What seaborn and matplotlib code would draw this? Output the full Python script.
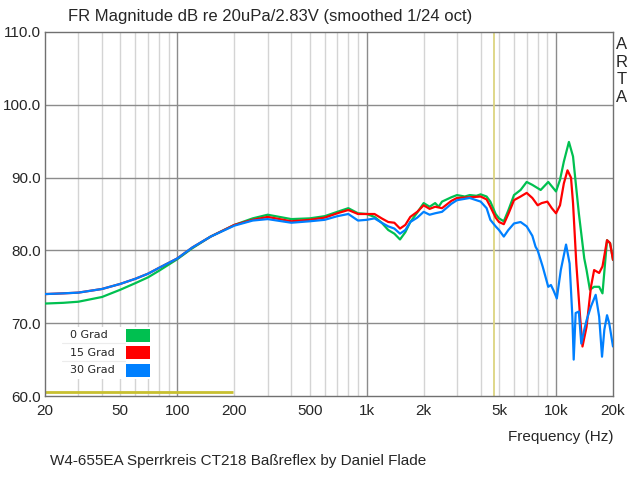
import numpy as np
import pandas as pd
import seaborn as sns
import matplotlib.pyplot as plt
from matplotlib.patches import Rectangle
from matplotlib.ticker import FixedLocator, NullFormatter

# values (Hz / dB)
freq_0 = [20, 25, 30, 40, 50, 60, 70, 80, 100, 120, 150, 200, 250, 300, 400, 500,
          600, 700, 800, 900, 1000, 1100, 1200, 1300, 1400, 1500, 1600, 1700, 1850,
          2000, 2150, 2300, 2400, 2500, 2800, 3000, 3300, 3500, 3800, 4000, 4300,
          4500, 4800, 5000, 5300, 5600, 6000, 6500, 7000, 7500, 8300, 9100, 10000,
          10500, 11000, 11700, 12300, 13200, 14100, 14500, 15100, 15900, 16900,
          17600, 18600, 19300, 20000]
db_0 = [72.7, 72.8, 72.95, 73.6, 74.6, 75.5, 76.3, 77.2, 78.8, 80.3, 81.9, 83.5,
        84.4, 84.9, 84.3, 84.4, 84.7, 85.3, 85.8, 85.1, 85.0, 84.6, 83.8, 82.8,
        82.3, 81.5, 82.5, 83.9, 85.2, 86.5, 86.0, 86.5, 86.0, 86.7, 87.3, 87.6,
        87.4, 87.6, 87.5, 87.7, 87.4, 86.7, 85.0, 84.4, 84.0, 85.5, 87.6, 88.3,
        89.4, 89.0, 88.3, 89.4, 88.1, 89.7, 92.2, 94.9, 92.9, 85.1, 78.9, 77.3,
        74.6, 75.0, 75.0, 74.1, 81.4, 81.0, 78.7]

freq_15 = [20, 25, 30, 40, 50, 60, 70, 80, 100, 120, 150, 200, 250, 300, 400, 500,
           600, 700, 800, 900, 1000, 1100, 1200, 1300, 1400, 1500, 1600, 1700, 1850,
           2000, 2150, 2300, 2500, 2800, 3000, 3500, 4000, 4300, 4500, 4800, 5000,
           5300, 5600, 6000, 6500, 7000, 7500, 8000, 8400, 9000, 9500, 10000, 10500,
           11000, 11500, 12000, 12300, 12800, 13400, 13800, 14500, 15300, 15900,
           16900, 17600, 18600, 19300, 20000]
db_15 = [74.0, 74.1, 74.2, 74.7, 75.4, 76.1, 76.8, 77.6, 78.9, 80.4, 81.9, 83.5,
         84.2, 84.6, 84.0, 84.2, 84.5, 85.1, 85.55, 85.0, 85.0, 85.0, 84.4, 83.9,
         83.8, 83.0, 83.5, 84.6, 85.3, 86.2, 85.7, 86.0, 85.8, 86.8, 87.2, 87.3,
         87.4, 87.0, 86.0, 84.5, 83.9, 83.6, 85.0, 86.9, 87.4, 87.9, 87.2, 86.2,
         86.5, 86.7, 85.8, 85.1, 86.2, 89.2, 91.0, 90.0, 86.5, 78.2, 70.9, 66.8,
         69.5, 75.0, 77.3, 76.9, 77.8, 81.4, 81.0, 78.7]

freq_30 = [20, 25, 30, 40, 50, 60, 70, 80, 100, 120, 150, 200, 250, 300, 400, 500,
           600, 700, 800, 900, 1000, 1100, 1200, 1300, 1400, 1500, 1600, 1700, 1850,
           2000, 2150, 2300, 2500, 2800, 3000, 3500, 4000, 4300, 4500, 4800, 5000,
           5300, 5600, 6000, 6500, 7000, 7500, 7800, 8000, 8500, 9100, 9400, 9700,
           10100, 10600, 11300, 11800, 12200, 12400, 12700, 13200, 13600, 14100,
           14500, 15300, 16200, 16900, 17500, 18000, 18600, 19100, 20000]
db_30 = [74.0, 74.1, 74.2, 74.7, 75.4, 76.1, 76.8, 77.6, 78.9, 80.4, 81.9, 83.4,
         84.1, 84.3, 83.8, 84.0, 84.2, 84.7, 85.0, 84.1, 84.2, 84.4, 83.8, 83.3,
         83.0, 82.3, 82.8, 83.9, 84.5, 85.3, 84.9, 85.1, 85.3, 86.4, 86.9, 87.2,
         86.7, 85.8, 84.2, 83.3, 82.8, 81.9, 82.8, 83.7, 83.9, 83.3, 82.0, 80.5,
         80.0, 77.8, 75.0, 75.25, 74.5, 73.4, 77.3, 80.8, 78.2, 70.9, 65.0, 71.4,
         71.6, 67.2, 69.1, 70.4, 72.3, 73.9, 70.9, 65.4, 69.1, 71.1, 70.0, 66.8]

series_names = ['0 Grad', '15 Grad', '30 Grad']
series_colors = ['#00C050', '#FF0000', '#0080FF']

x_ticks = [20, 50, 100, 200, 500, 1000, 2000, 5000, 10000, 20000]
x_tick_labels = ['20', '50', '100', '200', '500', '1k', '2k', '5k', '10k', '20k']
y_ticks = [60, 70, 80, 90, 100, 110]

# yellow marker lines drawn by ARTA
marker_freq = 4700
marker_level = 60.5
marker_level_end = 197

df = pd.concat([
    pd.DataFrame({'freq': freq_0, 'db': db_0, 'angle': series_names[0]}),
    pd.DataFrame({'freq': freq_15, 'db': db_15, 'angle': series_names[1]}),
    pd.DataFrame({'freq': freq_30, 'db': db_30, 'angle': series_names[2]}),
])

sns.set_style('white')
plt.rcParams['font.family'] = ['Liberation Sans', 'DejaVu Sans']

fig = plt.figure(figsize=(6.4, 4.79), dpi=100)
ax = fig.add_axes([45 / 640, 83 / 479, 568 / 640, 364 / 479])

# grid, ARTA style
minor_grid = [m * 10 ** e for e in range(1, 5) for m in range(1, 10)
              if 20 < m * 10 ** e < 20000]
for f in minor_grid:
    major = f in (100, 1000, 10000)
    ax.axvline(f, color='#8c8c8c' if major else '#d4d4d4', lw=1, zorder=0)
for y in y_ticks[1:-1]:
    ax.axhline(y, color='#8c8c8c', lw=1, zorder=0)

ax.axvline(marker_freq, color='#dcd480', lw=1.3, zorder=1)
ax.plot([20, marker_level_end], [marker_level, marker_level], color='#c8c030',
        lw=2, zorder=1, solid_capstyle='butt')

sns.lineplot(data=df, x='freq', y='db', hue='angle', palette=series_colors,
             hue_order=series_names, sort=False, estimator=None, lw=1.6,
             ax=ax, legend=False, zorder=3)

ax.set_xscale('log')
ax.set_xlim(20, 20000)
ax.set_ylim(60, 110)
ax.xaxis.set_major_locator(FixedLocator(x_ticks))
ax.set_xticklabels(x_tick_labels)
ax.xaxis.set_minor_formatter(NullFormatter())
ax.set_yticks(y_ticks)
ax.set_yticklabels([f'{v:.1f}' for v in y_ticks])
ax.tick_params(axis='both', which='both', length=0, labelsize=11, pad=6)
ax.tick_params(axis='y', pad=3)
ax.set_xlabel('')
ax.set_ylabel('')
for sp in ax.spines.values():
    sp.set_color('#707070')
    sp.set_linewidth(1)

# legend box drawn the way ARTA does it: label left, colour swatch right
ax.add_patch(Rectangle((0.03, 0.047), 0.165, 0.143, transform=ax.transAxes,
                       facecolor='white', edgecolor='none', zorder=4))
row_y = [0.1676, 0.1195, 0.0701]
for i, (name, col) in enumerate(zip(series_names, series_colors)):
    ax.text(0.044, row_y[i], name, transform=ax.transAxes, fontsize=8,
            family='DejaVu Sans', ha='left', va='center', zorder=5)
    ax.add_patch(Rectangle((0.1426, row_y[i] - 0.0179), 0.0423, 0.0357,
                           transform=ax.transAxes, facecolor=col,
                           edgecolor='none', zorder=5))
for sep in [0.1443, 0.0948]:
    ax.plot([0.03, 0.14], [sep, sep], transform=ax.transAxes,
            color='#ececec', lw=0.8, zorder=5)

fig.text(68 / 640, 1 - 17 / 479, 'FR Magnitude dB re 20uPa/2.83V (smoothed 1/24 oct)',
         fontsize=12, ha='left', va='center')
fig.text(613 / 640, 1 - 437 / 479, 'Frequency (Hz)', fontsize=11,
         ha='right', va='center')
fig.text(50 / 640, 1 - 461 / 479,
         'W4-655EA Sperrkreis CT218 Baßreflex by Daniel Flade',
         fontsize=11, ha='left', va='center')
fig.text(622 / 640, 1 - 37 / 479, 'A\nR\nT\nA', fontsize=12, ha='center',
         va='top', linespacing=1.22)

fig.savefig('out.png', dpi=100)
